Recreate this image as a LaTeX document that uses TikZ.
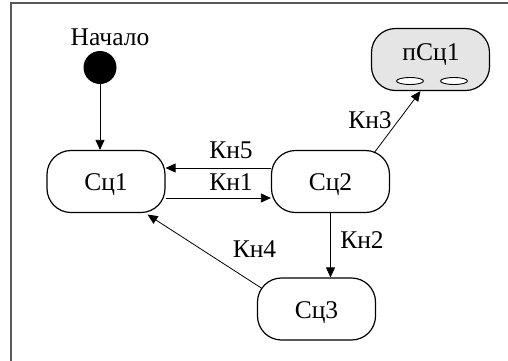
\documentclass[tikz,border=0pt]{standalone}
\usepackage{fontspec}
\setmainfont{Liberation Serif}
\usetikzlibrary{arrows.meta,calc}
\tikzset{
  state/.style={draw, line width=1.2pt, rounded corners=24pt, minimum width=118pt, minimum height=62pt, inner sep=0pt, font=\fontsize{25.5}{28}\selectfont},
  lbl/.style={font=\fontsize{25.5}{28}\selectfont, inner sep=0pt, anchor=base},
  conn/.style={line width=0.8pt, -{Triangle[length=10pt,width=9pt]}},
}
\begin{document}
\begin{tikzpicture}[x=1pt,y=-1pt]
\useasboundingbox (0,0) rectangle (508,360);
\draw[line width=1.6pt, black!65] (11,362) -- (11,3) -- (510,3);

\node[lbl] (start) at (110,45) {Начало};
\node[circle, fill=black, minimum size=33pt, inner sep=0pt] (init) at (100,67.5) {};

\node[state] (c1) at (106,181.5) {};
\node[lbl] at (106,190) {Сц1};
\node[state] (c2) at (330.5,181.5) {};
\node[lbl] at (330.5,190) {Сц2};
\node[state] (c3) at (316.5,309) {};
\node[lbl] at (316.5,318) {Сц3};
\node[state, fill=black!10] (p) at (430.5,59.5) {};
\node[lbl] at (431,60) {пСц1};
\draw[line width=0.9pt, fill=white] (410,81) ellipse [x radius=13.5pt, y radius=3.5pt];
\draw[line width=0.9pt, fill=white] (454,81) ellipse [x radius=13.5pt, y radius=3.5pt];

\draw[conn] (init.south) -- (init.south |- c1.north);
\draw[conn] ($(c2.west)+(0,-13.5)$) -- ($(c1.east)+(0,-13.5)$);
\draw[conn] ($(c1.east)+(0,16.5)$) -- ($(c2.west)+(0,16.5)$);
\draw[conn] ($(c2.north east)+(-16,3)$) -- ($(p.south)+(-10,0)$);
\draw[conn] (c2.south) -- (c2.south |- c3.north);
\draw[conn] ($(c3.north west)+(5,11)$) -- ($(c1.south east)+(-18,1.5)$);

\node[lbl] (k5) at (231,158) {Кн5};
\node[lbl] (k1) at (231,190) {Кн1};
\node[lbl] (k3) at (370,128) {Кн3};
\node[lbl] (k2) at (362,248) {Кн2};
\node[lbl] (k4) at (254.5,257) {Кн4};
\end{tikzpicture}
\end{document}
